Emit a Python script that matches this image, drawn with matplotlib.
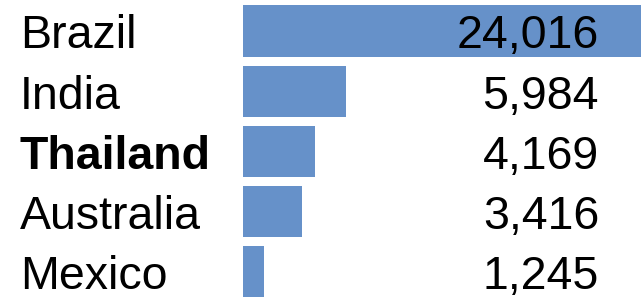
import matplotlib
matplotlib.use("Agg")
import matplotlib.pyplot as plt
from matplotlib.transforms import blended_transform_factory

countries = ["Brazil", "India", "Thailand", "Australia", "Mexico"]
values = [24016, 5984, 4169, 3416, 1245]
bold = ["Thailand"]

fig = plt.figure(figsize=(6.41, 2.99), dpi=100)
ax = fig.add_axes([243 / 641, 0, 398 / 641, 1])
ax.barh(range(len(countries)), values, height=0.85, color="#6691c9")
ax.set_xlim(0, 23140)
ax.set_ylim(4.46, -0.516)
ax.axis("off")

tr = blended_transform_factory(fig.transFigure, ax.transData)
for i, (c, v) in enumerate(zip(countries, values)):
    ax.text(20 / 641, i + 0.29, c, transform=tr, ha="left", va="baseline",
            fontsize=33.5, family="Liberation Sans",
            fontweight="bold" if c in bold else "normal", color="black", clip_on=False)
    ax.text(599 / 641, i + 0.29, f"{v:,}", transform=tr, ha="right", va="baseline",
            fontsize=33.5, family="Liberation Sans", color="black", clip_on=False)

fig.savefig("out.png", dpi=100)
